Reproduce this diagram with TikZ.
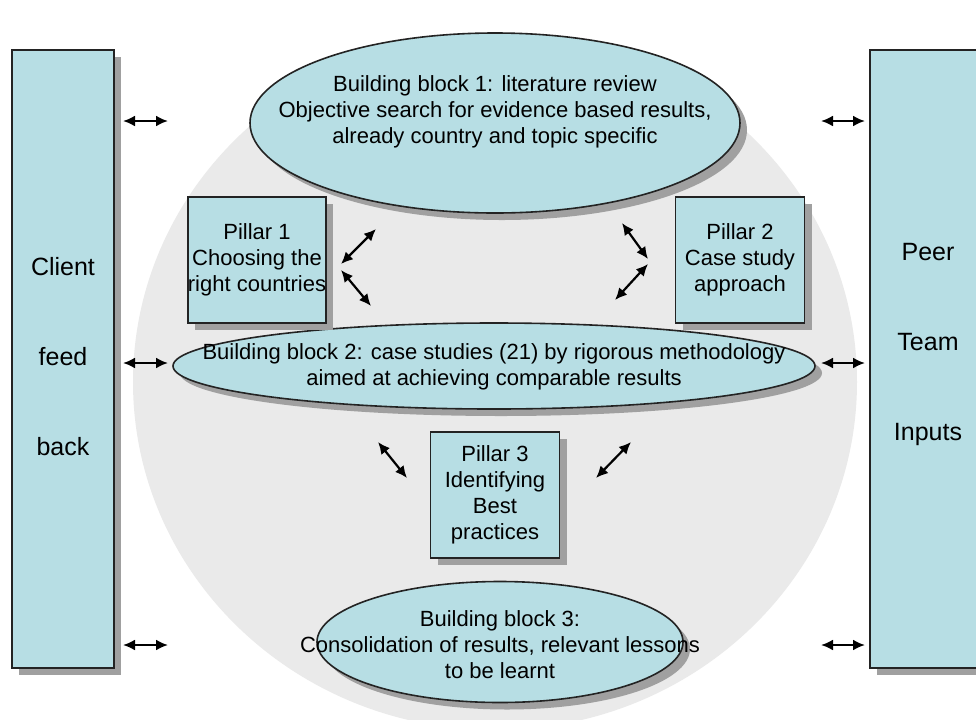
\documentclass[tikz,border=0pt]{standalone}
\usepackage{fontspec}
\setmainfont{Liberation Sans}
\usetikzlibrary{arrows.meta,shapes.geometric,shadows}

\definecolor{tealfill}{RGB}{183,222,228}
\definecolor{discgray}{RGB}{234,234,234}
\definecolor{shadegray}{RGB}{160,160,160}
\definecolor{edgeline}{RGB}{35,35,35}

\tikzset{
  boxed/.style={draw=edgeline, line width=0.8pt, fill=tealfill,
    drop shadow={shadow xshift=3.5pt, shadow yshift=-3.5pt, fill=shadegray, opacity=1}},
  pillar/.style={boxed, rectangle, minimum width=64.5pt, minimum height=63pt,
    inner sep=0pt, align=center, font=\fontsize{11}{13}\selectfont},
  sidebox/.style={boxed, rectangle, inner sep=0pt},
  block/.style={boxed, ellipse, inner sep=0pt},
  blocktext/.style={align=center, font=\fontsize{11}{13}\selectfont},
  sidetext/.style={align=center, font=\fontsize{12.5}{15}\selectfont},
  twoway/.style={{Latex[length=6pt,width=5.5pt]}-{Latex[length=6pt,width=5.5pt]}, line width=1.1pt},
}

\begin{document}
\begin{tikzpicture}[x=0.5pt,y=-0.5pt]
  \useasboundingbox (0,0) rectangle (976,719);
  \fill[white] (0,0) rectangle (976,719);

  % grey disc behind the blocks
  \fill[discgray] (495,382) ellipse (181pt and 174pt);

  % client and peer columns
  \node[sidebox, minimum width=51pt, minimum height=309pt] (client) at (63,359) {};
  \node[sidebox, minimum width=58pt, minimum height=309pt] (peer) at (928,359) {};
  \node[sidetext] (clienttext) at (63,357) {Client\\[30pt]feed\\[30pt]back};
  \node[sidetext] (peertext) at (928,344) {Peer\\[30pt]Team\\[30pt]Inputs};

  % building blocks
  \node[block, minimum width=245pt, minimum height=90pt] (bb1) at (495,123) {};
  \node[blocktext] (bb1text) at (495,112) {Building block 1: literature review\\
    Objective search for evidence based results,\\ already country and topic specific};
  \node[block, minimum width=321pt, minimum height=43pt] (bb2) at (494,366) {};
  \node[blocktext] (bb2text) at (494,367) {Building block 2: case studies (21) by rigorous methodology\\
    aimed at achieving comparable results};
  \node[block, minimum width=183pt, minimum height=60.5pt] (bb3) at (500,642) {};
  \node[blocktext] (bb3text) at (500,645) {Building block 3:\\
    Consolidation of results, relevant lessons\\ to be learnt};

  % pillars
  \node[pillar] (pillar1) at (257,260) {Pillar 1\\ Choosing the\\ right countries};
  \node[pillar] (pillar2) at (740,260) {Pillar 2\\ Case study\\ approach};
  \node[pillar] (pillar3) at (495,495) {Pillar 3\\ Identifying\\ Best\\ practices};

  % feedback arrows at both sides
  \foreach \y [count=\k] in {121,363,645} {
    \coordinate (cl\k) at (123,\y);
    \coordinate (cr\k) at (168,\y);
    \coordinate (pl\k) at (821,\y);
    \coordinate (pr\k) at (865,\y);
    \draw[twoway] (cl\k) -- (cr\k);
    \draw[twoway] (pl\k) -- (pr\k);
  }

  % pillar arrows
  \coordinate (p1a) at (341,264); \coordinate (p1b) at (376,229);
  \coordinate (p1c) at (341,270); \coordinate (p1d) at (371,306);
  \coordinate (p2a) at (622,223); \coordinate (p2b) at (648,259);
  \coordinate (p2c) at (648,264); \coordinate (p2d) at (615,300);
  \coordinate (p3a) at (378,442); \coordinate (p3b) at (407,478);
  \coordinate (p3c) at (631,442); \coordinate (p3d) at (596,478);
  \draw[twoway] (p1a) -- (p1b);
  \draw[twoway] (p1c) -- (p1d);
  \draw[twoway] (p2a) -- (p2b);
  \draw[twoway] (p2c) -- (p2d);
  \draw[twoway] (p3a) -- (p3b);
  \draw[twoway] (p3c) -- (p3d);
\end{tikzpicture}
\end{document}
